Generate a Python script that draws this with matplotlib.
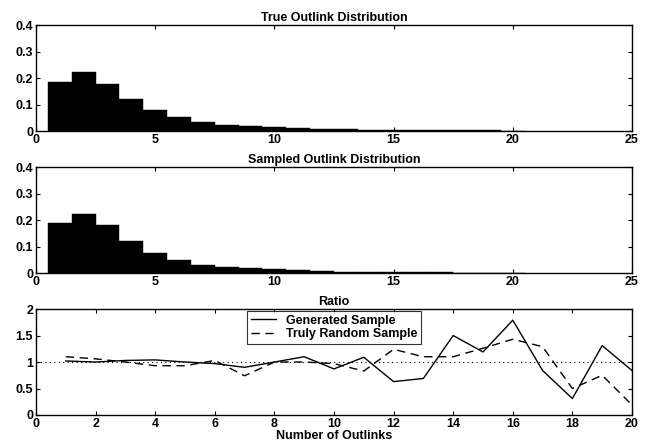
import matplotlib
matplotlib.use("Agg")
import matplotlib.pyplot as plt
import numpy as np

outlinks = list(range(1, 21))
true_dist = [0.186, 0.224, 0.177, 0.121, 0.079, 0.052, 0.034, 0.023, 0.018, 0.014,
             0.011, 0.008, 0.006, 0.005, 0.004, 0.003, 0.003, 0.002, 0.002, 0.001]
sampled_dist = [0.190, 0.225, 0.180, 0.122, 0.076, 0.050, 0.030, 0.024, 0.021, 0.014,
                0.013, 0.007, 0.004, 0.006, 0.005, 0.005, 0.003, 0.002, 0.002, 0.001]
ratio_x = list(range(1, 21))
generated = [1.02, 1.00, 1.03, 1.04, 1.00, 0.97, 0.90, 1.00, 1.10, 0.87,
             1.09, 0.63, 0.69, 1.50, 1.19, 1.79, 0.84, 0.31, 1.31, 0.84]
truly_random = [1.10, 1.06, 1.00, 0.93, 0.93, 1.03, 0.74, 1.00, 1.00, 0.97,
                0.83, 1.24, 1.10, 1.10, 1.26, 1.43, 1.29, 0.50, 0.75, 0.19]

plt.rcParams['font.family'] = ['Liberation Sans', 'DejaVu Sans']
plt.rcParams['font.weight'] = 'bold'
plt.rcParams['font.size'] = 9

fig = plt.figure(figsize=(6.46, 4.47), dpi=100)
L, W, H = 0.0557, 0.9226, 0.237
ax1 = fig.add_axes([L, 0.7069, W, H])
ax2 = fig.add_axes([L, 0.389, W, H])
ax3 = fig.add_axes([L, 0.0716, W, H])

def style(ax):
    ax.tick_params(direction='in', top=True, right=True, length=3, width=0.8, pad=2, labelsize=9)
    for s in ax.spines.values():
        s.set_linewidth(1.0)

for ax, data, title in [(ax1, true_dist, 'True Outlink Distribution'),
                        (ax2, sampled_dist, 'Sampled Outlink Distribution')]:
    ax.bar(outlinks, data, width=1.0, color='black', edgecolor='black', linewidth=0.3)
    ax.set_xlim(0, 25)
    ax.set_ylim(0, 0.4)
    ax.set_xticks([0, 5, 10, 15, 20, 25])
    ax.set_yticks([0, 0.1, 0.2, 0.3, 0.4])
    ax.set_yticklabels(['0', '0.1', '0.2', '0.3', '0.4'])
    ax.set_title(title, fontsize=9, fontweight='bold', pad=3)
    style(ax)

ax3.plot(ratio_x, generated, color='black', linestyle='-', linewidth=1.0, label='Generated Sample')
ax3.plot(ratio_x, truly_random, color='black', linestyle=(0, (6, 4)), linewidth=1.0, label='Truly Random Sample')
ax3.axhline(1.0, color='black', linestyle=(0, (1, 3)), linewidth=0.8)
ax3.set_xlim(0, 20)
ax3.set_ylim(0, 2)
ax3.set_xticks(range(0, 21, 2))
ax3.set_yticks([0, 0.5, 1, 1.5, 2])
ax3.set_yticklabels(['0', '0.5', '1', '1.5', '2'])
ax3.set_title('Ratio', fontsize=9, fontweight='bold', pad=3)
ax3.set_xlabel('Number of Outlinks', fontsize=9, fontweight='bold', labelpad=0)
leg = ax3.legend(loc='upper center', bbox_to_anchor=(0.5, 1.0), frameon=True, fancybox=False,
                 edgecolor='black', fontsize=9, handlelength=2.0, borderpad=0.3,
                 labelspacing=0.1, borderaxespad=0.15)
leg.get_frame().set_linewidth(0.8)
style(ax3)

fig.savefig('out.png', dpi=100)
